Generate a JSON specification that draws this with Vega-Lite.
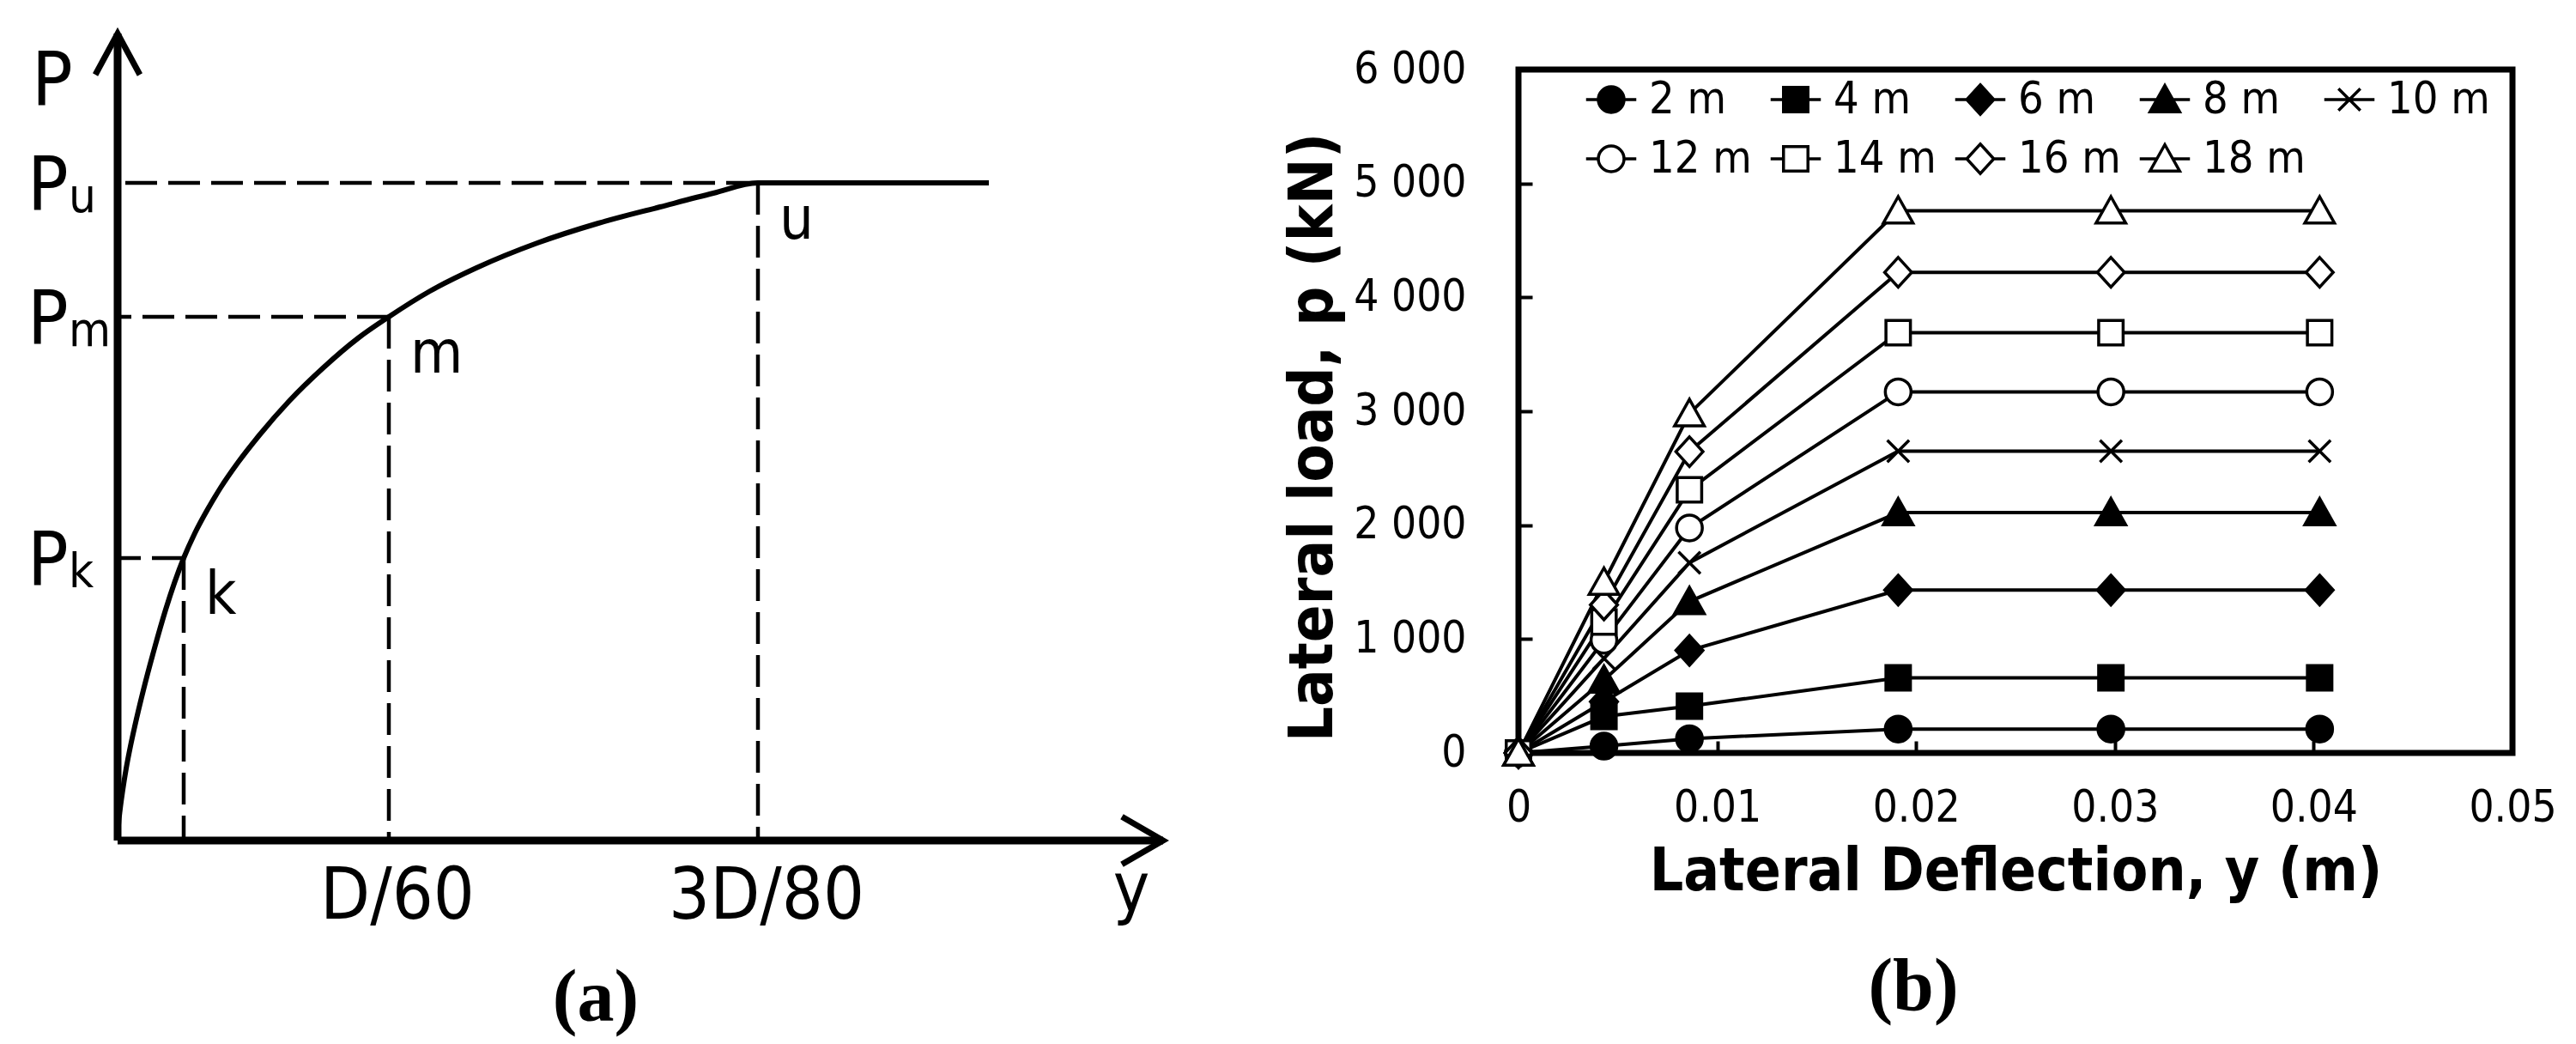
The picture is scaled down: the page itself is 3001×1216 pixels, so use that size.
{
  "$schema": "https://vega.github.io/schema/vega-lite/v6.json",
  "description": "(a) Schematic P-y curve with key points k, m, u. (b) Lateral load versus lateral deflection for embedment depths 2 m to 18 m.",
  "background": "white",
  "padding": {"left": 0, "top": 25, "right": 0, "bottom": 10},
  "bounds": "flush",
  "spacing": 369,
  "resolve": {
    "scale": {"shape": "independent", "fill": "independent"},
    "legend": {"shape": "independent", "fill": "independent"}
  },
  "datasets": {
    "curve": [
      {"x": 0, "p": 0}, {"x": 1, "p": 18}, {"x": 3, "p": 37}, {"x": 6, "p": 59},
      {"x": 10, "p": 84}, {"x": 15, "p": 110}, {"x": 20, "p": 133}, {"x": 30, "p": 175},
      {"x": 43, "p": 224}, {"x": 56, "p": 269}, {"x": 77, "p": 329}, {"x": 90, "p": 358},
      {"x": 105, "p": 386}, {"x": 120, "p": 411}, {"x": 140, "p": 440}, {"x": 165, "p": 472},
      {"x": 200, "p": 512}, {"x": 240, "p": 551}, {"x": 280, "p": 585}, {"x": 316, "p": 610},
      {"x": 364, "p": 640}, {"x": 418, "p": 667}, {"x": 489, "p": 696}, {"x": 560, "p": 719},
      {"x": 632, "p": 738}, {"x": 694, "p": 754}, {"x": 746, "p": 766}, {"x": 1015, "p": 766}
    ],
    "keypts": [
      {"pt": "k", "x": 77, "p": 329, "xl": ""},
      {"pt": "m", "x": 316, "p": 610, "xl": "D/60"},
      {"pt": "u", "x": 746, "p": 766, "xl": "3D/80"}
    ],
    "axes": [
      {"axis": "P", "x": 0, "p": 940},
      {"axis": "y", "x": 1218, "p": 0}
    ],
    "loads": [
      {"series": "2 m", "defl": 0, "load": 0}, {"series": "2 m", "defl": 0.0043, "load": 60}, {"series": "2 m", "defl": 0.0086, "load": 125},
      {"series": "2 m", "defl": 0.0191, "load": 210}, {"series": "2 m", "defl": 0.0298, "load": 210}, {"series": "2 m", "defl": 0.0403, "load": 210},
      {"series": "4 m", "defl": 0, "load": 0}, {"series": "4 m", "defl": 0.0043, "load": 320}, {"series": "4 m", "defl": 0.0086, "load": 410},
      {"series": "4 m", "defl": 0.0191, "load": 660}, {"series": "4 m", "defl": 0.0298, "load": 660}, {"series": "4 m", "defl": 0.0403, "load": 660},
      {"series": "6 m", "defl": 0, "load": 0}, {"series": "6 m", "defl": 0.0043, "load": 450}, {"series": "6 m", "defl": 0.0086, "load": 900},
      {"series": "6 m", "defl": 0.0191, "load": 1430}, {"series": "6 m", "defl": 0.0298, "load": 1430}, {"series": "6 m", "defl": 0.0403, "load": 1430},
      {"series": "8 m", "defl": 0, "load": 0}, {"series": "8 m", "defl": 0.0043, "load": 640}, {"series": "8 m", "defl": 0.0086, "load": 1330},
      {"series": "8 m", "defl": 0.0191, "load": 2110}, {"series": "8 m", "defl": 0.0298, "load": 2110}, {"series": "8 m", "defl": 0.0403, "load": 2110},
      {"series": "10 m", "defl": 0, "load": 0}, {"series": "10 m", "defl": 0.0043, "load": 830}, {"series": "10 m", "defl": 0.0086, "load": 1670},
      {"series": "10 m", "defl": 0.0191, "load": 2650}, {"series": "10 m", "defl": 0.0298, "load": 2650}, {"series": "10 m", "defl": 0.0403, "load": 2650},
      {"series": "12 m", "defl": 0, "load": 0}, {"series": "12 m", "defl": 0.0043, "load": 990}, {"series": "12 m", "defl": 0.0086, "load": 1975},
      {"series": "12 m", "defl": 0.0191, "load": 3170}, {"series": "12 m", "defl": 0.0298, "load": 3170}, {"series": "12 m", "defl": 0.0403, "load": 3170},
      {"series": "14 m", "defl": 0, "load": 0}, {"series": "14 m", "defl": 0.0043, "load": 1150}, {"series": "14 m", "defl": 0.0086, "load": 2310},
      {"series": "14 m", "defl": 0.0191, "load": 3690}, {"series": "14 m", "defl": 0.0298, "load": 3690}, {"series": "14 m", "defl": 0.0403, "load": 3690},
      {"series": "16 m", "defl": 0, "load": 0}, {"series": "16 m", "defl": 0.0043, "load": 1300}, {"series": "16 m", "defl": 0.0086, "load": 2645},
      {"series": "16 m", "defl": 0.0191, "load": 4220}, {"series": "16 m", "defl": 0.0298, "load": 4220}, {"series": "16 m", "defl": 0.0403, "load": 4220},
      {"series": "18 m", "defl": 0, "load": 0}, {"series": "18 m", "defl": 0.0043, "load": 1500}, {"series": "18 m", "defl": 0.0086, "load": 2980},
      {"series": "18 m", "defl": 0.0191, "load": 4760}, {"series": "18 m", "defl": 0.0298, "load": 4760}, {"series": "18 m", "defl": 0.0403, "load": 4760}
    ]
  },
  "hconcat": [
    {
      "width": 1400,
      "height": 796,
      "title": {"text": "(a)", "orient": "bottom", "anchor": "middle", "frame": "group", "dx": -6, "offset": 34, "font": "Liberation Serif", "fontSize": 86, "fontWeight": "bold", "color": "black"},
      "layer": [
        {
          "data": {"name": "axes"},
          "mark": {"type": "rule", "color": "black", "strokeWidth": 9},
          "encoding": {
            "x": {"field": "x", "type": "quantitative", "scale": {"domain": [-137, 1263], "nice": false, "zero": false}, "axis": null},
            "x2": {"datum": 0},
            "y": {"field": "p", "type": "quantitative", "scale": {"domain": [102, 898], "nice": false, "zero": false}, "axis": null},
            "y2": {"datum": 0}
          }
        },
        {
          "data": {"name": "axes"},
          "mark": {"type": "point", "filled": false, "stroke": "black", "strokeWidth": 7, "strokeJoin": "miter", "size": 9216, "opacity": 1},
          "encoding": {
            "x": {"field": "x", "type": "quantitative", "scale": {"domain": [-137, 1263], "nice": false, "zero": false}, "axis": null},
            "y": {"field": "p", "type": "quantitative", "scale": {"domain": [102, 898], "nice": false, "zero": false}, "axis": null},
            "shape": {"field": "axis", "type": "nominal", "scale": {"domain": ["P", "y"], "range": ["M-0.54,1L0,0L0.54,1", "M-1,-0.58L0,0L-1,0.58"]}, "legend": null}
          }
        },
        {
          "data": {"name": "curve"},
          "mark": {"type": "line", "color": "black", "strokeWidth": 6, "interpolate": "monotone"},
          "encoding": {
            "x": {"field": "x", "type": "quantitative", "scale": {"domain": [-137, 1263], "nice": false, "zero": false}, "axis": null},
            "y": {"field": "p", "type": "quantitative", "scale": {"domain": [102, 898], "nice": false, "zero": false}, "axis": null}
          }
        },
        {
          "data": {"name": "keypts"},
          "mark": {"type": "rule", "color": "black", "strokeWidth": 4.5, "strokeDash": [37, 13]},
          "encoding": {
            "x": {"field": "x", "type": "quantitative", "scale": {"domain": [-137, 1263], "nice": false, "zero": false}, "axis": null},
            "x2": {"datum": 0},
            "y": {"field": "p", "type": "quantitative", "scale": {"domain": [102, 898], "nice": false, "zero": false}, "axis": null}
          }
        },
        {
          "data": {"name": "keypts"},
          "mark": {"type": "rule", "color": "black", "strokeWidth": 4.5, "strokeDash": [37, 13]},
          "encoding": {
            "x": {"field": "x", "type": "quantitative", "scale": {"domain": [-137, 1263], "nice": false, "zero": false}, "axis": null},
            "y": {"field": "p", "type": "quantitative", "scale": {"domain": [102, 898], "nice": false, "zero": false}, "axis": null},
            "y2": {"datum": 0}
          }
        },
        {
          "data": {"name": "keypts"},
          "mark": {"type": "text", "text": "P", "align": "left", "baseline": "alphabetic", "dx": -105, "dy": 32, "fontSize": 88, "color": "black"},
          "encoding": {
            "x": {"datum": 0, "type": "quantitative", "scale": {"domain": [-137, 1263], "nice": false, "zero": false}, "axis": null},
            "y": {"field": "p", "type": "quantitative", "scale": {"domain": [102, 898], "nice": false, "zero": false}, "axis": null}
          }
        },
        {
          "data": {"name": "keypts"},
          "mark": {"type": "text", "align": "left", "baseline": "alphabetic", "dx": -57, "dy": 34, "fontSize": 56, "color": "black"},
          "encoding": {
            "x": {"datum": 0, "type": "quantitative", "scale": {"domain": [-137, 1263], "nice": false, "zero": false}, "axis": null},
            "y": {"field": "p", "type": "quantitative", "scale": {"domain": [102, 898], "nice": false, "zero": false}, "axis": null},
            "text": {"field": "pt"}
          }
        },
        {
          "data": {"name": "keypts"},
          "mark": {"type": "text", "align": "left", "baseline": "alphabetic", "dx": 25, "dy": 65, "fontSize": 70, "color": "black"},
          "encoding": {
            "x": {"field": "x", "type": "quantitative", "scale": {"domain": [-137, 1263], "nice": false, "zero": false}, "axis": null},
            "y": {"field": "p", "type": "quantitative", "scale": {"domain": [102, 898], "nice": false, "zero": false}, "axis": null},
            "text": {"field": "pt"}
          }
        },
        {
          "data": {"name": "keypts"},
          "mark": {"type": "text", "align": "center", "baseline": "alphabetic", "dx": 10, "dy": 91, "fontSize": 84, "color": "black"},
          "encoding": {
            "x": {"field": "x", "type": "quantitative", "scale": {"domain": [-137, 1263], "nice": false, "zero": false}, "axis": null},
            "y": {"datum": 0, "type": "quantitative", "scale": {"domain": [102, 898], "nice": false, "zero": false}, "axis": null},
            "text": {"field": "xl"}
          }
        },
        {
          "data": {"name": "axes"},
          "transform": [{"filter": "datum.axis == 'P'"}],
          "mark": {"type": "text", "align": "left", "baseline": "alphabetic", "dx": -100, "dy": 84, "fontSize": 88, "color": "black"},
          "encoding": {
            "x": {"field": "x", "type": "quantitative", "scale": {"domain": [-137, 1263], "nice": false, "zero": false}, "axis": null},
            "y": {"field": "p", "type": "quantitative", "scale": {"domain": [102, 898], "nice": false, "zero": false}, "axis": null},
            "text": {"field": "axis"}
          }
        },
        {
          "data": {"name": "axes"},
          "transform": [{"filter": "datum.axis == 'y'"}],
          "mark": {"type": "text", "align": "center", "baseline": "alphabetic", "dx": -37, "dy": 82, "fontSize": 80, "color": "black"},
          "encoding": {
            "x": {"field": "x", "type": "quantitative", "scale": {"domain": [-137, 1263], "nice": false, "zero": false}, "axis": null},
            "y": {"field": "p", "type": "quantitative", "scale": {"domain": [102, 898], "nice": false, "zero": false}, "axis": null},
            "text": {"field": "axis"}
          }
        }
      ]
    },
    {
      "width": 1158,
      "height": 796,
      "view": {"stroke": "black", "strokeWidth": 7},
      "title": {"text": "(b)", "orient": "bottom", "anchor": "middle", "frame": "group", "dx": -119, "offset": 58, "font": "Liberation Serif", "fontSize": 86, "fontWeight": "bold", "color": "black"},
      "data": {"name": "loads"},
      "encoding": {
        "x": {
          "field": "defl", "type": "quantitative",
          "scale": {"domain": [0, 0.05], "nice": false, "zero": false},
          "axis": {
            "values": [0, 0.01, 0.02, 0.03, 0.04, 0.05],
            "labelExpr": "datum.value == 0 ? '0' : format(datum.value, '.2f')",
            "domain": false, "grid": false,
            "tickSize": -14, "tickWidth": 4, "tickColor": "black",
            "labelFont": "DejaVu Sans Condensed", "labelFontSize": 51, "labelColor": "black", "labelPadding": 53,
            "labelFlush": false, "labelOverlap": false,
            "title": "Lateral Deflection, y (m)",
            "titleFont": "DejaVu Sans Condensed", "titleFontWeight": "bold", "titleFontSize": 69, "titleColor": "black", "titlePadding": 15
          }
        },
        "y": {
          "field": "load", "type": "quantitative",
          "scale": {"domain": [0, 6000], "nice": false, "zero": false},
          "axis": {
            "values": [0, 1000, 2000, 3000, 4000, 5000, 6000],
            "labelExpr": "replace(format(datum.value, ','), ',', ' ')",
            "domain": false, "grid": false,
            "tickSize": -16, "tickWidth": 4, "tickColor": "black",
            "labelFont": "DejaVu Sans Condensed", "labelFontSize": 51, "labelColor": "black", "labelPadding": 77,
            "labelFlush": false, "labelOverlap": false,
            "title": "Lateral load, p (kN)",
            "titleFont": "DejaVu Sans Condensed", "titleFontWeight": "bold", "titleFontSize": 72, "titleColor": "black", "titlePadding": 10,
            "titleY": 428
          }
        }
      },
      "layer": [
        {
          "mark": {"type": "line", "color": "black", "strokeWidth": 4},
          "encoding": {"detail": {"field": "series", "type": "nominal"}}
        },
        {
          "mark": {"type": "point", "filled": true, "opacity": 1, "stroke": "black", "strokeWidth": 3.5, "size": 900},
          "encoding": {
            "shape": {
              "field": "series", "type": "nominal",
              "scale": {
                "domain": ["18 m", "16 m", "14 m", "12 m", "10 m", "8 m", "6 m", "4 m", "2 m"],
                "range": [
                  "M0,-1.1L1.15,0.95H-1.15Z",
                  "M0,-1.15L1.05,0L0,1.15L-1.05,0Z",
                  "M-0.95,-0.95H0.95V0.95H-0.95Z",
                  "M1,0A1,1,0,1,1,-1,0A1,1,0,1,1,1,0Z",
                  "M-0.85,-0.85L0.85,0.85M-0.85,0.85L0.85,-0.85",
                  "M0,-1.1L1.15,0.95H-1.15Z",
                  "M0,-1.15L1.05,0L0,1.15L-1.05,0Z",
                  "M-0.95,-0.95H0.95V0.95H-0.95Z",
                  "M1,0A1,1,0,1,1,-1,0A1,1,0,1,1,1,0Z"
                ]
              },
              "legend": null
            },
            "fill": {
              "field": "series", "type": "nominal",
              "scale": {
                "domain": ["2 m", "4 m", "6 m", "8 m", "10 m", "12 m", "14 m", "16 m", "18 m"],
                "range": ["black", "black", "black", "black", "black", "white", "white", "white", "white"]
              },
              "legend": {
                "orient": "none", "legendX": 82, "legendY": 9,
                "direction": "horizontal", "columns": 5, "title": null,
                "symbolSize": 900, "symbolStrokeWidth": 3.5, "symbolStrokeColor": "black", "symbolOpacity": 1,
                "labelFont": "DejaVu Sans Condensed", "labelFontSize": 52, "labelColor": "black", "labelOffset": 18, "labelLimit": 400,
                "columnPadding": 14, "rowPadding": 17, "padding": 0,
                "encoding": {
                  "symbols": {
                    "stroke": {"value": "black"},
                    "strokeWidth": {"value": 3.5},
                    "shape": {"value": {"expr": "['M-1.95,0H-1M1,0H1.95M1,0A1,1,0,1,1,-1,0A1,1,0,1,1,1,0Z','M-1.95,0H-0.95M0.95,0H1.95M-0.95,-0.95H0.95V0.95H-0.95Z','M-1.95,0H-1.05M1.05,0H1.95M0,-1.15L1.05,0L0,1.15L-1.05,0Z','M-1.95,0H-0.62M0.62,0H1.95M0,-1.1L1.15,0.95H-1.15Z','M-1.95,0H1.95M-0.85,-0.85L0.85,0.85M-0.85,0.85L0.85,-0.85','M-1.95,0H-1M1,0H1.95M1,0A1,1,0,1,1,-1,0A1,1,0,1,1,1,0Z','M-1.95,0H-0.95M0.95,0H1.95M-0.95,-0.95H0.95V0.95H-0.95Z','M-1.95,0H-1.05M1.05,0H1.95M0,-1.15L1.05,0L0,1.15L-1.05,0Z','M-1.95,0H-0.62M0.62,0H1.95M0,-1.1L1.15,0.95H-1.15Z'][indexof(['2 m','4 m','6 m','8 m','10 m','12 m','14 m','16 m','18 m'], datum.value)]"}}
                  }
                }
              }
            }
          }
        }
      ]
    }
  ],
  "config": {
    "view": {"stroke": null},
    "font": "DejaVu Sans Condensed",
    "text": {"font": "DejaVu Sans Condensed", "color": "black"}
  }
}
